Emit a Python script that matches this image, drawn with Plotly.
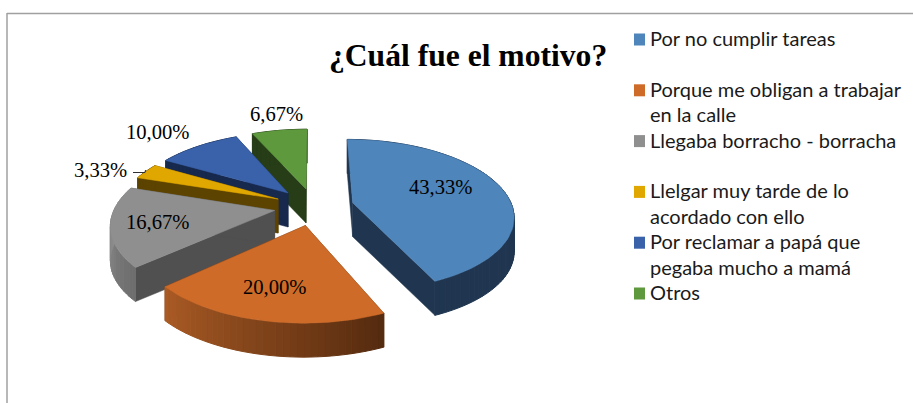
import math
import plotly.graph_objects as go

# ---- data ----
categories = [
    "Por no cumplir tareas",
    "Porque me obligan a trabajar en la calle",
    "Llegaba borracho - borracha",
    "Llelgar muy tarde de lo acordado con ello",
    "Por reclamar a papá que pegaba mucho a mamá",
    "Otros",
]
values = [43.33, 20.00, 16.67, 3.33, 10.00, 6.67]
title_text = "¿Cuál fue el motivo?"
legend_lines = [
    ["Por no cumplir tareas"],
    ["Porque me obligan a trabajar", "en la calle"],
    ["Llegaba borracho - borracha"],
    ["Llelgar muy tarde de lo", "acordado con ello"],
    ["Por reclamar a papá que", "pegaba mucho a mamá"],
    ["Otros"],
]
legend_rows = [0, 2, 4, 6, 8, 10]

# ---- style ----
top_colors = ["#4E85BA", "#CE6B28", "#8F8F8F", "#E0A700", "#3A62AA", "#5F993E"]
side_colors = ["#203650", "#5A2C10", "#505050", "#5C4300", "#17294D", "#263D18"]
rim_from = ["#203650", "#552B0F", "#6E6E6E", "#5C4300", "#17294D", "#263D18"]
rim_to = ["#203650", "#AC5C25", "#9A9A9A", "#5C4300", "#17294D", "#263D18"]
draw_order = [5, 4, 3, 2, 0, 1]
label_xy = [(441, 187), (275, 287), (158, 222), (100, 170), (157.5, 132), (276, 114)]

W, H = 913, 403
CX, CY, RX, RY, PERSP, EXPLODE, DEPTH = 314.0, 206.5, 159.5, 74.7, 0.163, 0.25, 34.0


def project(u, v, z=0.0):
    s = 1.0 / (1.0 - PERSP * v)
    return CX + RX * u * s, CY + RY * v * s + z


def mix(a, b, t):
    ca = [int(a[i:i + 2], 16) for i in (1, 3, 5)]
    cb = [int(b[i:i + 2], 16) for i in (1, 3, 5)]
    return "rgb(%d,%d,%d)" % tuple(round(x + (y - x) * t) for x, y in zip(ca, cb))


fig = go.Figure()


def poly(pts, color, name, width=1.0):
    xs = [p[0] for p in pts] + [pts[0][0]]
    ys = [p[1] for p in pts] + [pts[0][1]]
    fig.add_trace(go.Scatter(
        x=xs, y=ys, mode="lines", fill="toself", fillcolor=color,
        line=dict(color=color, width=width), name=name, legendgroup=name,
        showlegend=False, hoverinfo="name",
    ))


total = sum(values)
starts = []
acc = 0.0
for val in values:
    starts.append(acc)
    acc += val
for i in draw_order:
    a0 = starts[i] / total * 2 * math.pi
    a1 = (starts[i] + values[i]) / total * 2 * math.pi
    mid = (a0 + a1) / 2
    ax, ay = EXPLODE * math.sin(mid), -EXPLODE * math.cos(mid)
    n = max(4, int(round((a1 - a0) / math.radians(2))))
    thetas = [a0 + (a1 - a0) * k / n for k in range(n + 1)]
    arc = [(ax + math.sin(t), ay - math.cos(t)) for t in thetas]
    name = categories[i]
    # radial walls
    for end in (arc[0], arc[-1]):
        poly([project(ax, ay), project(*end), project(*end, DEPTH), project(ax, ay, DEPTH)],
             side_colors[i], name, 0.5)
    # outer rim, in bands so the shading can run along it
    for k in range(n):
        seg = arc[k:k + 2]
        pts = [project(*p) for p in seg] + [project(*p, DEPTH) for p in reversed(seg)]
        poly(pts, mix(rim_from[i], rim_to[i], k / n), name, 1.0)
    # top surface
    poly([project(ax, ay)] + [project(*p) for p in arc], top_colors[i], name, 0.5)

annotations = []
for val, (lx, ly) in zip(values, label_xy):
    annotations.append(dict(
        x=lx, y=ly, xref="x", yref="y", showarrow=False,
        text=f"{val:.2f}%".replace(".", ","),
        font=dict(family="Liberation Serif", size=20.6, color="#000000"),
    ))
annotations.append(dict(
    x=467.5, y=55, xref="x", yref="y", showarrow=False, text=f"<b>{title_text}</b>",
    font=dict(family="Liberation Serif", size=31.6, color="#000000"),
))

shapes = [
    dict(type="line", x0=7, x1=W, y0=13.5, y1=13.5, xref="x", yref="y", line=dict(color="#A0A0A0", width=1.5)),
    dict(type="line", x0=7, x1=7, y0=13, y1=H, xref="x", yref="y", line=dict(color="#A0A0A0", width=1.5)),
    dict(type="path", path="M 133 172.5 L 145 172.5 L 145.5 170", xref="x", yref="y",
         line=dict(color="#303030", width=1)),
]
for row0, lines, color in zip(legend_rows, legend_lines, top_colors):
    yc0 = 39.5 + 25.4 * row0
    shapes.append(dict(type="rect", x0=634, x1=645, y0=yc0 - 6, y1=yc0 + 6, xref="x", yref="y",
                       fillcolor=color, line=dict(width=0)))
    for j, line in enumerate(lines):
        annotations.append(dict(
            x=648, y=yc0 + 25.4 * j - 1.5, xref="x", yref="y", xanchor="left", showarrow=False,
            text=line, font=dict(family="Lato", size=20, color="#1A1A1A"),
        ))

fig.update_layout(
    width=W, height=H, margin=dict(l=0, r=0, t=0, b=0),
    paper_bgcolor="white", plot_bgcolor="white", showlegend=False,
    xaxis=dict(range=[0, W], visible=False, fixedrange=True),
    yaxis=dict(range=[H, 0], visible=False, fixedrange=True),
    annotations=annotations, shapes=shapes,
)
fig.write_html("out.html", config={"displayModeBar": False},
               post_script="document.body.style.margin='0';document.body.style.overflow='hidden';")
